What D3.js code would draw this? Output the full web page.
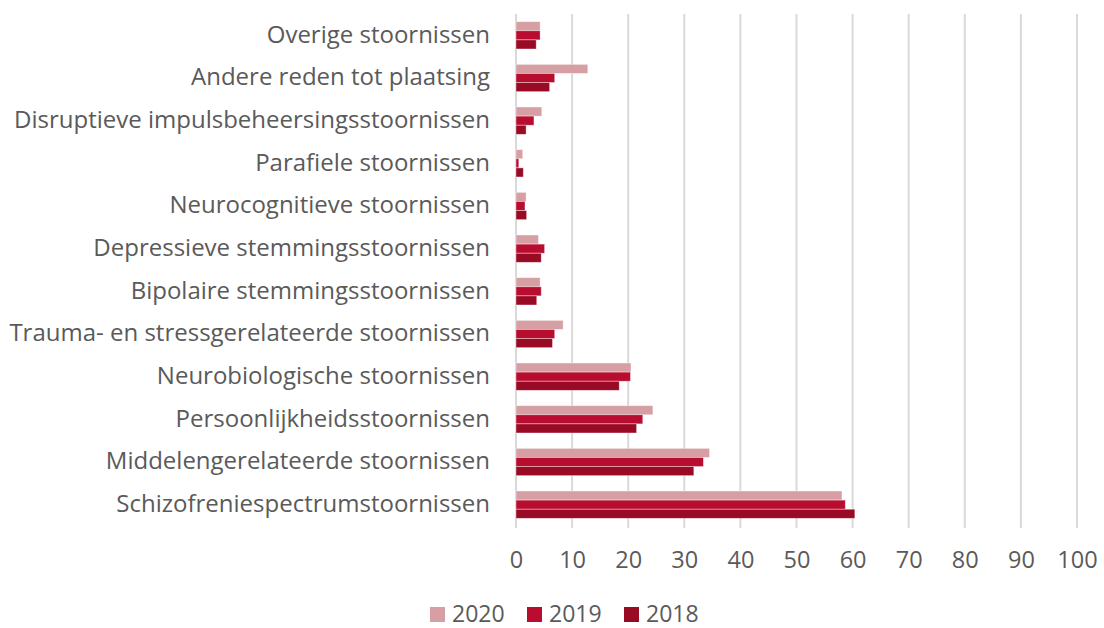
<!doctype html>
<html lang="nl">
<head>
  <meta charset="utf-8">
  <title>Stoornissen per jaar</title>
  <script src="https://d3js.org/d3.v7.min.js"></script>
  <style>
    body { margin:0; background:#fff; }
    text { font-family:"Open Sans", sans-serif; fill:#5a5a5a; }
  </style>
</head>
<body>
<div id="chart"></div>
<script>
  // categories from top to bottom
  var categories = [
    "Overige stoornissen",
    "Andere reden tot plaatsing",
    "Disruptieve impulsbeheersingsstoornissen",
    "Parafiele stoornissen",
    "Neurocognitieve stoornissen",
    "Depressieve stemmingsstoornissen",
    "Bipolaire stemmingsstoornissen",
    "Trauma- en stressgerelateerde stoornissen",
    "Neurobiologische stoornissen",
    "Persoonlijkheidsstoornissen",
    "Middelengerelateerde stoornissen",
    "Schizofreniespectrumstoornissen"
  ];
  var years = ["2020", "2019", "2018"];
  var values2020 = [4.3, 12.8, 4.6, 1.2, 1.8, 4.0, 4.3, 8.4, 20.5, 24.4, 34.5, 58.1];
  var values2019 = [4.3, 6.9, 3.2, 0.5, 1.6, 5.1, 4.5, 6.9, 20.4, 22.6, 33.4, 58.7];
  var values2018 = [3.6, 6.0, 1.8, 1.3, 1.9, 4.5, 3.7, 6.5, 18.4, 21.5, 31.7, 60.4];
  var ticks = [0, 10, 20, 30, 40, 50, 60, 70, 80, 90, 100];
  var colors = ["#d69fa4", "#b90d30", "#990a25"];

  var width = 1104, height = 628;
  var svg = d3.select("#chart").append("svg")
    .attr("width", width)
    .attr("height", height);

  var x = d3.scaleLinear().domain([0, 100]).range([516, 1077]);
  var y = d3.scaleBand().domain(categories).range([14, 526])
    .paddingInner(0.36).paddingOuter(0.18);
  var ySub = d3.scaleBand().domain(years).range([0, y.bandwidth()]);

  var series = [values2020, values2019, values2018];

  // gridlines
  svg.append("g").selectAll("line")
    .data(ticks)
    .enter().append("line")
    .attr("x1", function(d){ return x(d); })
    .attr("x2", function(d){ return x(d); })
    .attr("y1", 14)
    .attr("y2", 528)
    .attr("stroke", "#d9d9d9")
    .attr("stroke-width", 2);

  // bars
  years.forEach(function(yr, i) {
    svg.append("g").selectAll("rect")
      .data(series[i])
      .enter().append("rect")
      .attr("x", x(0))
      .attr("y", function(d, j){ return y(categories[j]) + ySub(yr); })
      .attr("width", function(d){ return x(d) - x(0); })
      .attr("height", ySub.bandwidth())
      .attr("fill", colors[i])
      .attr("stroke", "#fff")
      .attr("stroke-opacity", 0.5)
      .attr("stroke-width", 0.75);
  });

  // category labels
  svg.append("g").selectAll("text")
    .data(categories)
    .enter().append("text")
    .attr("x", 490)
    .attr("y", function(d){ return y(d) + y.bandwidth() / 2; })
    .attr("dy", "0.3em")
    .attr("text-anchor", "end")
    .attr("font-size", 24)
    .text(function(d){ return d; });

  // x axis, baseline of labels at 568
  var xAxis = svg.append("g")
    .attr("transform", "translate(0,568)")
    .call(d3.axisBottom(x).tickValues(ticks).tickSize(0));
  xAxis.select(".domain").remove();
  xAxis.selectAll("text")
    .attr("y", 0)
    .attr("dy", 0)
    .attr("font-size", 23.5)
    .attr("fill", "#5a5a5a")
    .style("font-family", "'Open Sans', sans-serif");

  // legend (kept a few px up so the text box stays inside the picture)
  var legendX = [430, 527, 624];
  var legend = svg.append("g").selectAll("g")
    .data(years)
    .enter().append("g")
    .attr("transform", function(d, i){ return "translate(" + legendX[i] + ",607)"; });
  legend.append("rect")
    .attr("width", 15).attr("height", 15)
    .attr("fill", function(d, i){ return colors[i]; });
  legend.append("text")
    .attr("x", 22).attr("y", 15)
    .attr("font-size", 23)
    .text(function(d){ return d; });
</script>
</body>
</html>
